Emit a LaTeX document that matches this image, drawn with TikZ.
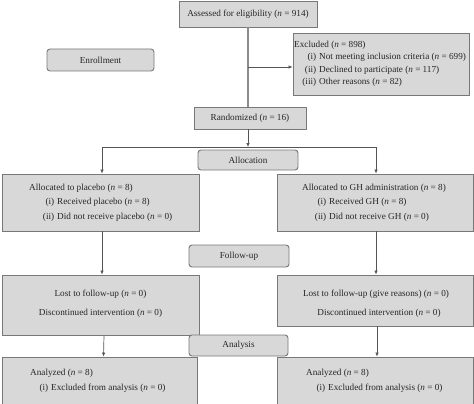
\documentclass[tikz,border=0pt]{standalone}
\usepackage{fontspec}
\setmainfont{Liberation Serif}
\usetikzlibrary{arrows.meta}
\definecolor{boxfill}{RGB}{216,216,216}
\definecolor{boxline}{RGB}{120,120,120}
\definecolor{conline}{RGB}{85,85,85}
\definecolor{thickline}{RGB}{140,140,140}
\newcommand\nn{\textit{n}}
\newcommand\lab[1]{\makebox[14pt][r]{#1}\hspace{3pt}}
\begin{document}
\begin{tikzpicture}[x=1pt,y=-1pt,
  every node/.style={font=\fontsize{9.2}{11}\selectfont, inner sep=0pt, text=black!85},
  box/.style={draw=boxline, fill=boxfill, line width=0.9pt},
  rbox/.style={box, rounded corners=3pt},
  txt/.style={anchor=west},
  ctxt/.style={anchor=center},
  arr/.style={draw=conline, line width=0.7pt, -{Latex[length=4pt,width=3.6pt]}},
  con/.style={draw=thickline, line width=1.6pt}]
\useasboundingbox (0,0) rectangle (474,404);
\clip (0,0) rectangle (474,404);
% boxes
\node[box, minimum width=138pt, minimum height=26pt] (assess) at (248,14) {Assessed for eligibility (\nn{} = 914)};
\node[rbox, minimum width=107pt, minimum height=22pt] (enrol) at (100.5,60) {Enrollment};
\node[box, minimum width=176pt, minimum height=62pt] (excl) at (381,64) {};
\node[box, minimum width=112pt, minimum height=22pt] (rand) at (250,118) {Randomized (\nn{} = 16)};
\node[rbox, minimum width=100pt, minimum height=20pt] (alloc) at (248,160) {Allocation};
\node[box, minimum width=197pt, minimum height=57pt] (plac) at (100.5,202.5) {};
\node[box, minimum width=196pt, minimum height=57pt] (gh) at (375,202.5) {};
\node[rbox, minimum width=100pt, minimum height=22pt] (follow) at (239,256) {Follow-up};
\node[box, minimum width=197pt, minimum height=60pt] (lostp) at (100.5,305) {};
\node[box, minimum width=196pt, minimum height=51pt] (lostg) at (375,300.5) {};
\node[rbox, minimum width=99pt, minimum height=21pt] (analysis) at (238.5,345.5) {Analysis};
\node[box, minimum width=195pt, minimum height=50pt] (anap) at (99.5,382) {};
\node[box, minimum width=196pt, minimum height=50pt] (anag) at (375,382) {};
% texts
\node[txt] (e0) at (294,45) {Excluded (\nn{} = 898)};
\node[txt] (e1) at (302,57.5) {\lab{(i)}Not meeting inclusion criteria (\nn{} = 699)};
\node[txt] (e2) at (302,70) {\lab{(ii)}Declined to participate (\nn{} = 117)};
\node[txt] (e3) at (302,82) {\lab{(iii)}Other reasons (\nn{} = 82)};
\node[txt] (p0) at (29,188) {Allocated to placebo (\nn{} = 8)};
\node[txt] (p1) at (40,202.5) {\lab{(i)}Received placebo (\nn{} = 8)};
\node[txt] (p2) at (40,217) {\lab{(ii)}Did not receive placebo (\nn{} = 0)};
\node[txt] (g0) at (302,188) {Allocated to GH administration (\nn{} = 8)};
\node[txt] (g1) at (312,202.5) {\lab{(i)}Received GH (\nn{} = 8)};
\node[txt] (g2) at (312,217) {\lab{(ii)}Did not receive GH (\nn{} = 0)};
\node[ctxt] (lp0) at (100.5,294) {Lost to follow-up (\nn{} = 0)};
\node[ctxt] (lp1) at (100.5,313) {Discontinued intervention (\nn{} = 0)};
\node[ctxt] (lg0) at (376,294) {Lost to follow-up (give reasons) (\nn{} = 0)};
\node[ctxt] (lg1) at (379,313) {Discontinued intervention (\nn{} = 0)};
\node[txt] (ap0) at (30,373) {Analyzed (\nn{} = 8)};
\node[txt] (ap1) at (34,388) {\lab{(i)}Excluded from analysis (\nn{} = 0)};
\node[txt] (ag0) at (306,373) {Analyzed (\nn{} = 8)};
\node[txt] (ag1) at (311,388) {\lab{(i)}Excluded from analysis (\nn{} = 0)};
% connectors
\coordinate (j1) at (248,67);
\coordinate (split) at (248,147);
\draw[con] (assess.south) -- (assess.south |- rand.north);
\draw[arr] (j1) -- (j1 -| excl.west);
\draw[arr] (rand.south -| split) -- (split);
\draw[arr] (split) -| ([xshift=1.5pt]plac.north);
\draw[arr] (split) -| ([xshift=1pt]gh.north);
\draw[arr] ([xshift=1.5pt]plac.south) -- ([xshift=1.5pt]lostp.north);
\draw[arr] ([xshift=1pt]gh.south) -- ([xshift=1pt]lostg.north);
\draw[arr] ([xshift=3.5pt]lostp.south) -- ([xshift=4pt]anap.north);
\draw[arr] ([xshift=2pt]lostg.south) -- ([xshift=2pt]anag.north);
\end{tikzpicture}
\end{document}
